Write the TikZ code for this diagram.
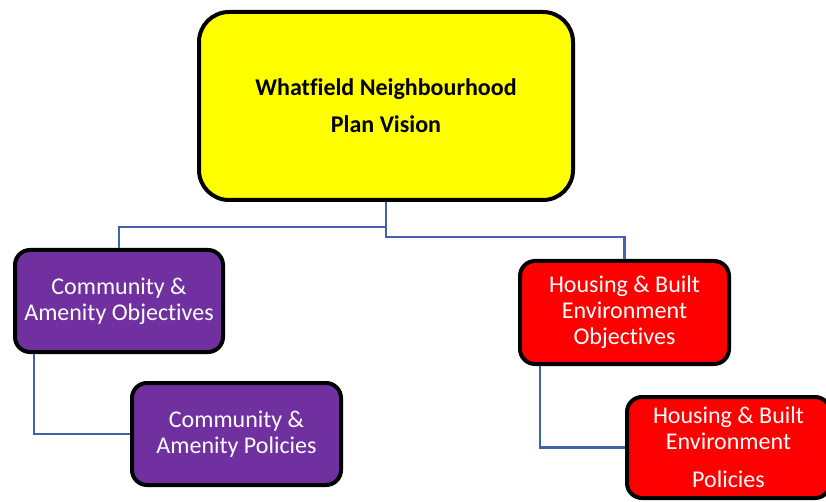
\documentclass[tikz,border=0pt]{standalone}
\usepackage{fontspec}
\setmainfont{Carlito}[Ligatures=NoCommon]
\definecolor{vyellow}{RGB}{255,255,0}
\definecolor{cpurple}{RGB}{112,48,160}
\definecolor{hred}{RGB}{255,0,0}
\definecolor{conn}{RGB}{66,98,172}
\tikzset{
  box/.style={draw=black, line width=4pt, rounded corners=15pt, align=center, inner sep=0pt},
  smallbox/.style={box, text=white, font=\fontsize{24}{26}\selectfont},
  link/.style={draw=conn, line width=2.2pt}
}
\begin{document}
\begin{tikzpicture}[x=1pt,y=1pt]
\useasboundingbox (0,0) rectangle (826,-502);
\node[box, fill=vyellow, rounded corners=30pt, minimum width=374pt, minimum height=188pt,
      font=\fontsize{24}{37}\bfseries\selectfont] (vis) at (386,-106)
      {Whatfield Neighbourhood\\Plan Vision};
\node[smallbox, fill=cpurple, minimum width=208pt, minimum height=102pt] (cao) at (119,-301)
      {Community \&\\Amenity Objectives};
\node[smallbox, fill=cpurple, minimum width=209pt, minimum height=102pt] (cap) at (236.5,-434)
      {Community \&\\Amenity Policies};
\node[smallbox, fill=hred, minimum width=209pt, minimum height=103pt] (hbo) at (624.5,-312.5)
      {Housing \& Built\\Environment\\Objectives};
\node[smallbox, fill=hred, minimum width=203pt, minimum height=101pt] (hbp) at (728.5,-447.5)
      {Housing \& Built\\Environment\\[12pt]Policies};
\coordinate (jl) at (119,-227);
\coordinate (jr) at (624.5,-237);
\draw[link] (vis.south) |- (jl) -- (cao.north);
\draw[link] (vis.south) |- (jr) -- (hbo.north);
\draw[link] ([xshift=21pt]cao.south west) |- (cap.west);
\draw[link] ([xshift=22pt]hbo.south west) |- (hbp.west);
\end{tikzpicture}
\end{document}
